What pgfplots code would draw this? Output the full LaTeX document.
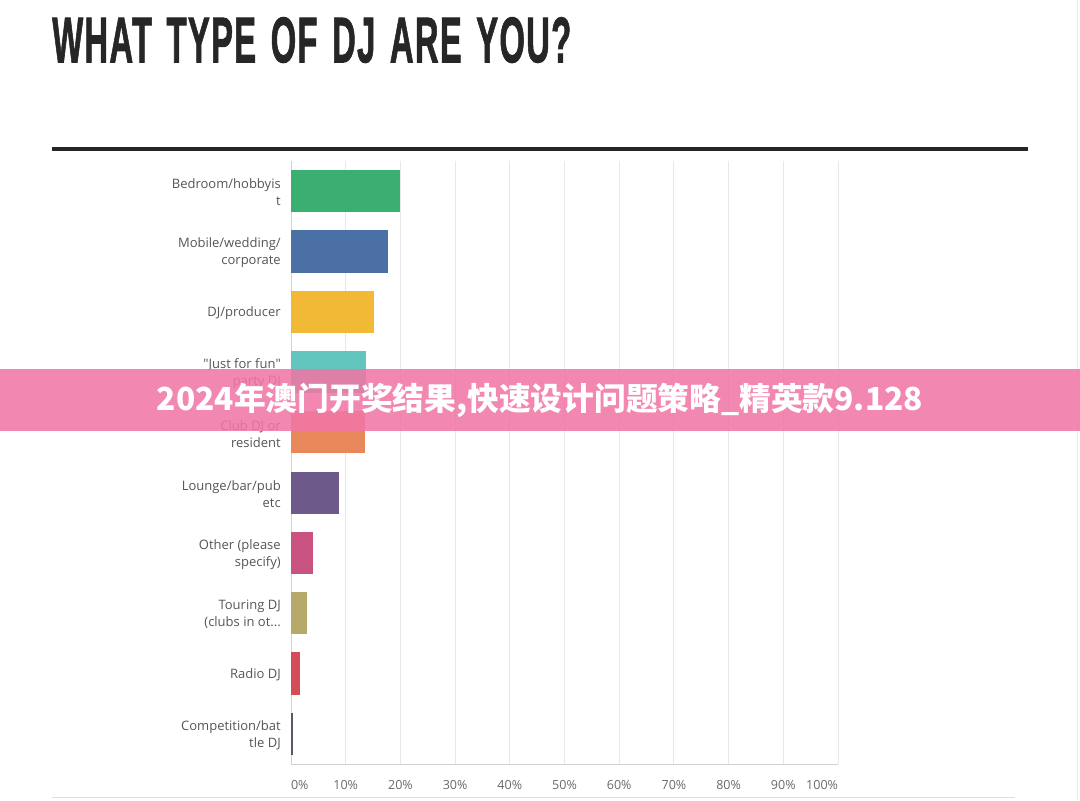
\documentclass[border=0pt]{standalone}
\usepackage{pgfplots}
\pgfplotsset{compat=1.18}
\usepackage{fontspec}
\setmainfont{Open Sans}
\newfontfamily\nolig{Open Sans}
\newfontfamily\titlefont[FakeBold=1.6, LetterSpace=4, WordSpace=1.4]{Liberation Sans Bold}
\newfontfamily\cjk{Noto Sans CJK SC}
\definecolor{cgreen}{RGB}{59,174,114}
\definecolor{cblue}{RGB}{74,112,166}
\definecolor{cyellow}{RGB}{242,185,54}
\definecolor{cteal}{RGB}{98,197,190}
\definecolor{corange}{RGB}{232,135,90}
\definecolor{cpurple}{RGB}{110,90,138}
\definecolor{cpink}{RGB}{200,82,128}
\definecolor{colive}{RGB}{182,170,106}
\definecolor{cred}{RGB}{212,76,86}
\definecolor{cdark}{RGB}{85,90,105}
\definecolor{lbl}{RGB}{85,85,85}
\definecolor{tick}{RGB}{105,105,105}
\definecolor{gridc}{RGB}{232,232,232}
\definecolor{axc}{RGB}{210,210,210}
\definecolor{banner}{RGB}{240,118,166}
\definecolor{titlec}{RGB}{38,38,38}
\newcommand{\trdots}{.\kern0pt.\kern0pt.}
\newcommand{\sq}{{\nolig"}}
\begin{document}
\begin{tikzpicture}
\path[use as bounding box] (0,0) rectangle (810pt,600pt);
% title
\node[anchor=north west, inner sep=0pt, text=titlec] at (39pt,587.25pt)
  {\resizebox{389.25pt}{33.75pt}{\titlefont WHAT TYPE OF DJ ARE YOU?}};
\draw[line width=3pt, color=titlec] (39pt,487.9pt) -- (771pt,487.9pt);
\draw[line width=0.75pt, color=gray!15] (807.75pt,0pt) -- (807.75pt,600pt);
\draw[line width=0.75pt, color=gray!25] (39pt,2.25pt) -- (761.25pt,2.25pt);
\begin{axis}[
  at={(218.25pt,27pt)}, anchor=south west,
  scale only axis, width=410.25pt, height=452.25pt,
  xbar, bar width=0.7, bar shift=0pt,
  xmin=0, xmax=100, ymin=-0.5, ymax=9.5, y dir=reverse,
  axis x line*=bottom, axis y line*=left,
  axis line style={color=axc, line width=0.75pt},
  xmajorgrids, grid style={color=gridc, line width=0.75pt},
  major tick length=0pt,
  ytick={0,1,2,3,4,5,6,7,8,9},
  yticklabels={{Bedroom/hobbyis\\t},{Mobile/wedding/\\corporate},{DJ/producer},{\sq Just for fun\sq\\party DJ},{Club DJ or\\resident},{Lounge/bar/pub\\etc},{Other (please\\specify)},{Touring DJ\\(clubs in ot\trdots},{Radio DJ},{Competition/bat\\tle DJ}},
  yticklabel style={align=right, inner sep=0pt, xshift=-7.5pt, yshift=-1pt, text=lbl, font=\fontsize{9.75pt}{12.75pt}\selectfont},
  xtick={0,10,20,30,40,50,60,70,80,90,100},
  xticklabels={\rlap{0\%},10\%,20\%,30\%,40\%,50\%,60\%,70\%,80\%,90\%,\llap{100\%}},
  xticklabel style={anchor=north, inner sep=0pt, yshift=-12pt, text=tick, font=\fontsize{9.4pt}{11pt}\selectfont},
  every axis plot/.append style={draw=none},
]
\addplot[fill=cgreen] coordinates {(20,0)};
\addplot[fill=cblue] coordinates {(17.8,1)};
\addplot[fill=cyellow] coordinates {(15.1,2)};
\addplot[fill=cteal] coordinates {(13.8,3)};
\addplot[fill=corange] coordinates {(13.6,4)};
\addplot[fill=cpurple] coordinates {(8.8,5)};
\addplot[fill=cpink] coordinates {(4.0,6)};
\addplot[fill=colive] coordinates {(2.9,7)};
\addplot[fill=cred] coordinates {(1.7,8)};
\addplot[fill=cdark] coordinates {(0.3,9)};
\end{axis}
% banner overlay
\fill[banner, opacity=0.88] (0pt,276.75pt) rectangle (810pt,323.25pt);
\node[text=white, inner sep=0pt] at (405pt,299.5pt)
  {\resizebox{574.5pt}{!}{\cjk\bfseries 2024年澳门开奖结果,快速设计问题策略\_精英款9.128}};
\end{tikzpicture}
\end{document}
